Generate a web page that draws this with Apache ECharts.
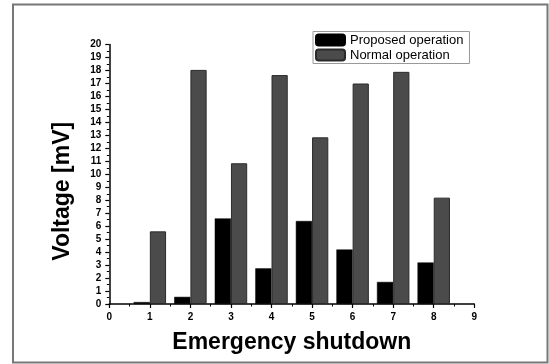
<!DOCTYPE html>
<html>
<head>
<meta charset="utf-8">
<script src="https://cdn.jsdelivr.net/npm/echarts@6/dist/echarts.min.js"></script>
<style>
  html, body { margin: 0; padding: 0; background: #fff; }
  #chart { width: 549px; height: 364px; }
</style>
</head>
<body>
<div id="chart"></div>
<script>
// Shutdown event numbers and measured voltages (mV)
const shutdowns = [1, 2, 3, 4, 5, 6, 7, 8];
const proposedVoltage = [0.15, 0.55, 6.6, 2.75, 6.4, 4.2, 1.7, 3.2];
const normalVoltage = [5.6, 18.05, 10.85, 17.65, 12.85, 17.0, 17.9, 8.2];
const seriesNames = ['Proposed operation', 'Normal operation'];

const pairs = (vals) => shutdowns.map((s, i) => [s, vals[i]]);

const chart = echarts.init(document.getElementById('chart'), null, { renderer: 'canvas' });
const labelFont = { fontFamily: 'Liberation Sans, Arial, sans-serif', fontWeight: 'bold', fontSize: 10, color: '#000' };
const titleFont = { fontFamily: 'Liberation Sans, Arial, sans-serif', fontWeight: 'bold', fontSize: 23, color: '#000' };

chart.setOption({
  animation: false,
  backgroundColor: '#fff',
  graphic: [{
    type: 'rect',
    shape: { x: 13, y: 4.5, width: 534.5, height: 358 },
    style: { fill: 'none', stroke: '#777', lineWidth: 2 },
    silent: true
  }],
  grid: { left: 109.3, right: 74.7, top: 44.6, bottom: 60 },
  legend: {
    orient: 'vertical',
    left: 313,
    top: 31.5,
    padding: [2, 6, 2, 2],
    itemGap: 2,
    itemWidth: 29,
    itemHeight: 11,
    borderColor: '#999',
    borderWidth: 1,
    textStyle: { fontFamily: 'Liberation Sans, Arial, sans-serif', fontSize: 13, color: '#000', padding: [0, 0, 0, 0] },
    data: seriesNames
  },
  xAxis: {
    type: 'value',
    min: 0, max: 9, interval: 1,
    name: 'Emergency shutdown',
    nameLocation: 'middle',
    nameGap: 27,
    nameTextStyle: titleFont,
    axisLine: { show: true, lineStyle: { color: '#000', width: 1.5 } },
    axisTick: { show: true, inside: false, length: 4, lineStyle: { color: '#000', width: 1.2 } },
    minorTick: { show: true, splitNumber: 2, length: 2.5, lineStyle: { color: '#000', width: 1 } },
    axisLabel: Object.assign({ margin: 8 }, labelFont),
    splitLine: { show: false }
  },
  yAxis: {
    type: 'value',
    min: 0, max: 20, interval: 1,
    name: 'Voltage [mV]',
    nameLocation: 'middle',
    nameGap: 35,
    nameTextStyle: Object.assign({ padding: [0, 34, 0, 0] }, titleFont),
    axisLine: { show: true, lineStyle: { color: '#000', width: 1.5 } },
    axisTick: { show: true, inside: false, length: 4, lineStyle: { color: '#000', width: 1.2 } },
    minorTick: { show: true, splitNumber: 2, length: 2.5, lineStyle: { color: '#000', width: 1 } },
    axisLabel: Object.assign({ margin: 8 }, labelFont),
    splitLine: { show: false }
  },
  series: [
    {
      name: seriesNames[0],
      type: 'bar',
      data: pairs(proposedVoltage),
      barWidth: '40%',
      barGap: '0%',
      itemStyle: { color: '#000', borderColor: '#000', borderWidth: 0.5 }
    },
    {
      name: seriesNames[1],
      type: 'bar',
      data: pairs(normalVoltage),
      barWidth: '40%',
      barGap: '0%',
      itemStyle: { color: '#4b4b4b', borderColor: '#2a2a2a', borderWidth: 1 }
    }
  ]
});
</script>
</body>
</html>
